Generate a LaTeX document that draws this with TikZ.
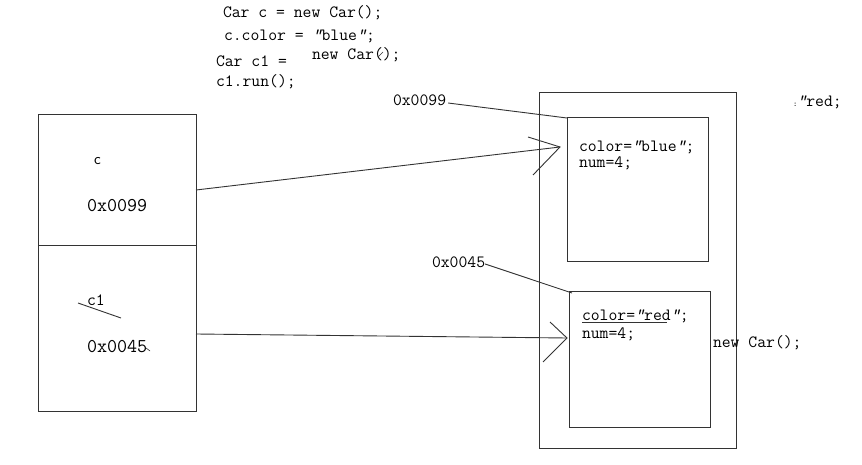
\documentclass[tikz,border=0pt]{standalone}
\usepackage{fontspec}
\newcommand{\dq}{{\itshape"}}
\begin{document}
\begin{tikzpicture}[x=1pt,y=-1pt,
  box/.style={draw=black!80,line width=1pt,inner sep=0pt,outer sep=0pt,rectangle},
  code/.style={anchor=base west,inner sep=0pt,outer sep=0pt,font=\ttfamily\fontsize{17.2}{18}\selectfont,text=black},
  big/.style={anchor=base west,inner sep=0pt,outer sep=0pt,font=\ttfamily\fontsize{19.5}{20}\selectfont,text=black},
  wire/.style={draw=black!80,line width=0.9pt}]
\useasboundingbox[fill=white] (0,0) rectangle (862,465);

% stack boxes
\node[box,minimum width=158pt,minimum height=130pt] (stackc) at (117,180) {};
\node[box,minimum width=158pt,minimum height=166pt] (stackc1) at (117,328) {};

% heap boxes
\node[box,minimum width=197pt,minimum height=355pt] (heap) at (637.5,270.5) {};
\node[box,minimum width=141pt,minimum height=143pt] (obj1) at (637.5,189.5) {};
\node[box,minimum width=141pt,minimum height=136pt] (obj2) at (639.5,359) {};

% code lines
\node[code] (l1) at (223,18) {Car c = new Car();};
\node[code] (l2) at (224,41) {c.color = \dq blue\dq;};
\node[code] (l3) at (216,67) {Car c1 =};
\node[code] (l3b) at (312,60) {new Car();};
\node[code] (l4) at (216,87) {c1.run();};
\draw[wire,line width=0.6pt] (378,57) -- (383,52);

% stack texts
\node[anchor=base west,inner sep=0pt,font=\sffamily\fontsize{16}{18}\selectfont] (cname) at (94,165) {c};
\node[big] (caddr) at (87,212) {0x0099};
\node[code] (c1name) at (87,305) {c1};
\node[big] (c1addr) at (87,352) {0x0045};
\draw[wire] (78,303) -- (121,318);
\draw[wire,line width=0.6pt] (146,348) -- (150,351);

% heap labels
\node[code] (h1) at (393,106) {0x0099};
\node[code] (h2) at (432,267) {0x0045};
\draw[wire] (h1.base east) ++(2,-3) coordinate (h1e) -- (obj1.north west);
\draw[wire] (h2.base east) ++(0,-3) coordinate (h2e) -- ([xshift=3pt,yshift=-2pt]obj2.north west);

% object contents
\node[code] (o1a) at (579,152) {color=\dq blue\dq;};
\node[code] (o1b) at (579,168) {num=4;};
\node[code] (o2a) at (582,320) {color=\dq red\dq;};
\node[code] (o2b) at (582,338) {num=4;};
\draw[wire,line width=0.8pt] (582,322) -- (667,322);

% stray texts
\node[code] (nc) at (713,347) {new Car();};
\node[code] (red) at (793,107) {{\fontsize{8}{8}\selectfont:}\dq red;};

% references
\coordinate (t1) at (560,147);
\coordinate (t2) at (567,338);
\draw[wire] (stackc.east |- 0,190) -- (t1);
\draw[wire] (528,137) -- (t1) -- (533,175);
\draw[wire] (stackc1.east |- 0,334) -- (t2);
\draw[wire] (550,322) -- (t2) -- (543,362);
\end{tikzpicture}
\end{document}
